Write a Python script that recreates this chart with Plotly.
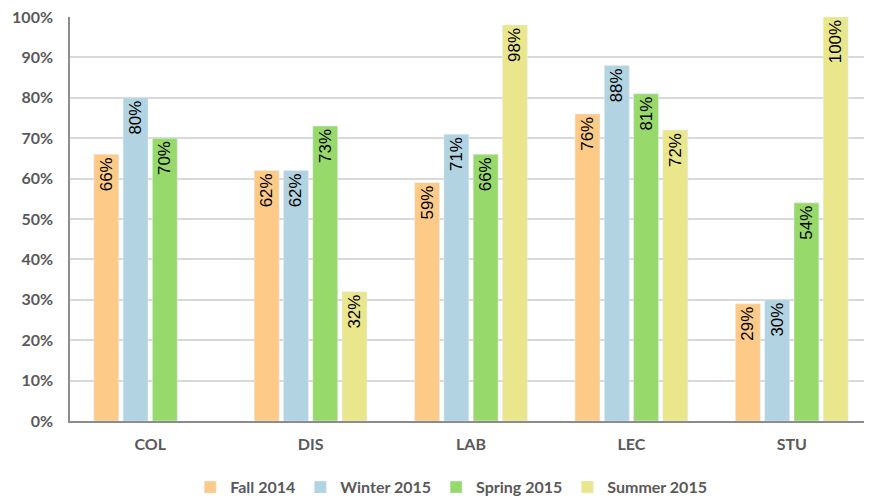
import plotly.graph_objects as go

categories = ["COL", "DIS", "LAB", "LEC", "STU"]
series_names = ["Fall 2014", "Winter 2015", "Spring 2015", "Summer 2015"]
fall = [66, 62, 59, 76, 29]
winter = [80, 62, 71, 88, 30]
spring = [70, 73, 66, 81, 54]
summer = [None, 32, 98, 72, 100]
colors = ["#FDCB87", "#B1D3E2", "#98D96C", "#EAE68C"]
y_ticks = list(range(0, 101, 10))

fig = go.Figure()
for name, vals, c in zip(series_names, [fall, winter, spring, summer], colors):
    fig.add_trace(go.Bar(
        x=categories, y=vals, name=name, marker_color=c,
        text=[f"{v}%" if v is not None else "" for v in vals],
        textposition="inside", insidetextanchor="end", textangle=-90,
        textfont=dict(family="Liberation Sans, Arial", size=17, color="black"),
        cliponaxis=False,
    ))

fig.update_layout(
    width=864, height=493,
    margin=dict(l=62, r=0, t=9, b=80),
    plot_bgcolor="white", paper_bgcolor="white",
    barmode="group", bargap=0.27, bargroupgap=0.15,
    legend=dict(orientation="h", xref="container", yref="container",
                x=0.513, xanchor="center", y=0.028, yanchor="middle",
                font=dict(family="Lato, Open Sans", size=16, color="#595959", weight="bold"),
                itemwidth=30, traceorder="normal"),
    xaxis=dict(showline=True, linecolor="#8c8c8c", linewidth=1.5, ticks="",
               tickfont=dict(family="Lato, Open Sans", size=16, color="#595959", weight="bold"),
               range=[-0.5, 4.5], automargin=False, ticklabelstandoff=8),
    yaxis=dict(range=[0, 100], tickvals=y_ticks, ticktext=[f"{t}%" for t in y_ticks],
               showgrid=True, gridcolor="#d9d9d9", gridwidth=1.5,
               showline=True, linecolor="#8c8c8c", linewidth=1.5,
               tickfont=dict(family="Lato, Open Sans", size=16, color="#595959", weight="bold"),
               zeroline=False, automargin=False, ticklabelstandoff=12,
               ticklabeloverflow="allow"),
    font=dict(family="Lato, Open Sans"),
)
fig.write_html("out.html")
